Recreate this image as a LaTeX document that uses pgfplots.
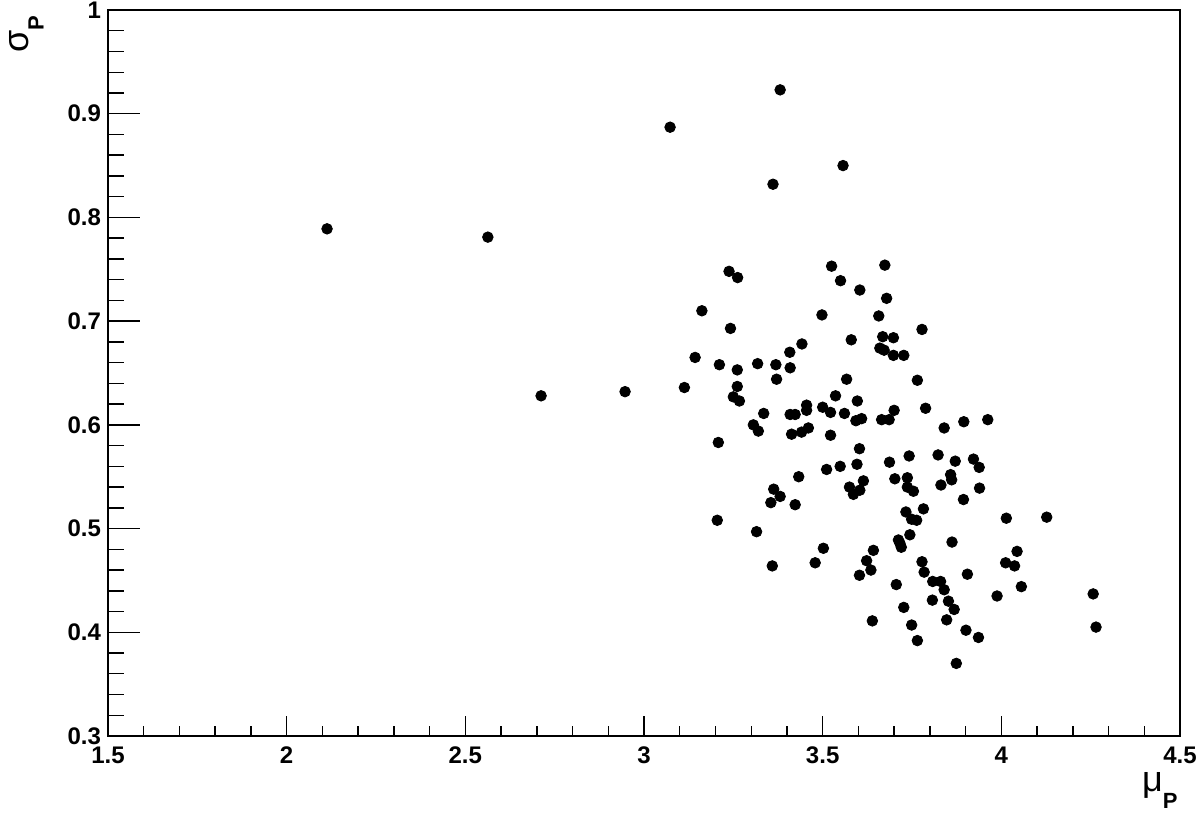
\documentclass[border=0pt]{standalone}
\usepackage{fontspec}
\setmainfont{Liberation Sans}
\usepackage{pgfplots}
\pgfplotsset{compat=1.18}
\usepackage{pgfplotstable}
\pgfplotstableread{
x y
2.113 0.789
2.563 0.781
2.712 0.628
2.947 0.632
3.073 0.887
3.381 0.923
3.361 0.832
3.557 0.850
3.238 0.748
3.262 0.742
3.162 0.710
3.242 0.693
3.143 0.665
3.211 0.658
3.261 0.653
3.318 0.659
3.369 0.658
3.408 0.670
3.442 0.678
3.409 0.655
3.371 0.644
3.113 0.636
3.261 0.637
3.525 0.753
3.674 0.754
3.550 0.739
3.604 0.730
3.679 0.722
3.498 0.706
3.657 0.705
3.778 0.692
3.580 0.682
3.668 0.685
3.698 0.684
3.660 0.674
3.672 0.672
3.698 0.667
3.727 0.667
3.567 0.644
3.765 0.643
3.250 0.627
3.267 0.623
3.335 0.611
3.306 0.600
3.320 0.594
3.409 0.610
3.423 0.610
3.413 0.591
3.441 0.593
3.460 0.597
3.208 0.583
3.433 0.550
3.363 0.538
3.381 0.531
3.355 0.525
3.423 0.523
3.205 0.508
3.315 0.497
3.455 0.619
3.455 0.614
3.500 0.617
3.522 0.612
3.561 0.611
3.536 0.628
3.597 0.623
3.593 0.604
3.609 0.606
3.665 0.605
3.686 0.605
3.700 0.614
3.788 0.616
3.840 0.597
3.522 0.590
3.603 0.577
3.742 0.570
3.823 0.571
3.687 0.564
3.511 0.557
3.549 0.560
3.596 0.562
3.702 0.548
3.737 0.549
3.614 0.546
3.575 0.540
3.737 0.540
3.754 0.536
3.604 0.537
3.586 0.533
3.831 0.542
3.858 0.552
3.861 0.547
3.733 0.516
3.782 0.519
3.749 0.509
3.763 0.508
3.744 0.494
3.712 0.489
3.716 0.486
3.720 0.482
3.895 0.603
3.962 0.605
3.871 0.565
3.922 0.567
3.938 0.559
3.939 0.539
3.894 0.528
4.014 0.510
4.127 0.511
3.862 0.487
3.502 0.481
3.479 0.467
3.642 0.479
3.623 0.469
3.635 0.460
3.603 0.455
3.778 0.468
3.784 0.458
3.808 0.449
3.830 0.449
3.840 0.441
3.706 0.446
3.807 0.431
3.852 0.430
3.868 0.422
3.727 0.424
3.639 0.411
3.749 0.407
3.847 0.412
3.765 0.392
4.044 0.478
4.012 0.467
4.037 0.464
3.905 0.456
3.988 0.435
4.056 0.444
3.901 0.402
3.936 0.395
3.874 0.370
4.257 0.437
4.265 0.405
3.359 0.464
}\pts
\begin{document}
\begin{tikzpicture}
\begin{axis}[
  scale only axis,
  width=536pt, height=363pt,
  xmin=1.5, xmax=4.5, ymin=0.3, ymax=1,
  xtick={1.5,2,2.5,3,3.5,4,4.5},
  ytick={0.3,0.4,0.5,0.6,0.7,0.8,0.9,1},
  minor x tick num=4, minor y tick num=4,
  xtick pos=bottom, ytick pos=left,
  tick align=inside,
  axis line style={line width=0.8pt},
  every tick/.style={line width=0.7pt, black},
  xtick style={/pgfplots/major tick length=10pt, /pgfplots/minor tick length=5pt},
  ytick style={/pgfplots/major tick length=16pt, /pgfplots/minor tick length=8pt},
  /pgf/number format/assume math mode=true,
  ticklabel style={font=\bfseries\fontsize{12}{12}\selectfont},
  xticklabel style={yshift=-2pt},
  yticklabel style={xshift=0pt},
  xlabel={{\fontsize{18}{18}\selectfont μ}{\fontsize{11}{11}\selectfont\bfseries\raisebox{-8.5pt}{P}}},
  xlabel style={at={([yshift=-18pt,xshift=-1pt]rel axis cs:1,0)}, anchor=north east, inner sep=0pt},
  ylabel={{\fontsize{18}{18}\selectfont σ}{\fontsize{11}{11}\selectfont\bfseries\raisebox{-7.5pt}{P}}},
  ylabel style={at={([xshift=-32pt,yshift=-2.5pt]rel axis cs:0,1)}, rotate=0, anchor=south east, inner sep=0pt},
]
\addplot[only marks, mark=*, mark size=2.65pt, black] table[x=x,y=y] {\pts};
\end{axis}
\pgfresetboundingbox
\path[use as bounding box] (-54pt,-42pt) rectangle (546pt,368pt);
\end{tikzpicture}
\end{document}
